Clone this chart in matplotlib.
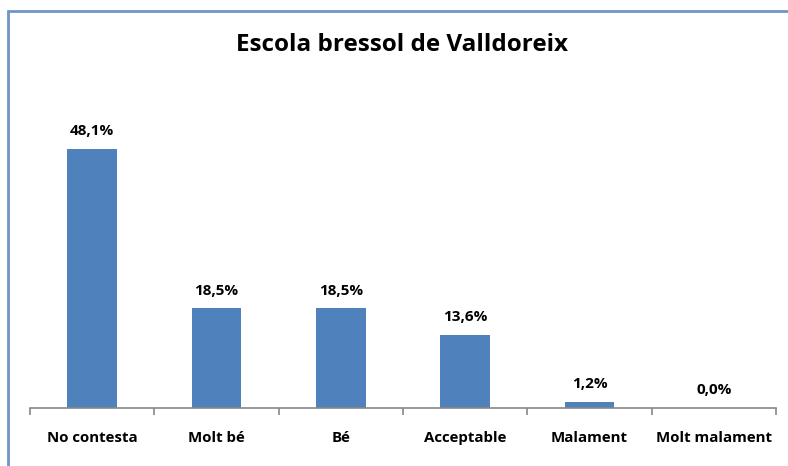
import matplotlib
matplotlib.use("Agg")
import matplotlib.pyplot as plt
from matplotlib.patches import Rectangle
import numpy as np

categories = ["No contesta", "Molt bé", "Bé", "Acceptable", "Malament", "Molt malament"]
values = [48.1, 18.5, 18.5, 13.6, 1.2, 0.0]
title = "Escola bressol de Valldoreix"

plt.rcParams['font.family'] = ['Open Sans', 'DejaVu Sans']

W, H = 788, 466
fig = plt.figure(figsize=(W / 100, H / 100), dpi=100)

# marc del gràfic (retallat a dreta i a baix)
fig.patches.append(Rectangle((8 / W, -0.1), 1.2, (H - 11) / H + 0.1,
                             transform=fig.transFigure, fill=False,
                             edgecolor="#6f95c8", linewidth=2))

ax = fig.add_axes([30 / W, (H - 408) / H, (776 - 30) / W, (408 - 85) / H])
x = np.arange(len(categories))
ax.bar(x, values, width=0.4, color="#4f81bd")

for xi, v in zip(x, values):
    ax.text(xi, v + 2.0, f"{v:.1f}%".replace(".", ","), ha="center", va="bottom",
            fontsize=11, fontweight="bold")

ax.set_xlim(-0.5, len(categories) - 0.5)
ax.set_ylim(0, 60)
ax.set_yticks([])
for s in ["top", "right", "left"]:
    ax.spines[s].set_visible(False)
ax.spines["bottom"].set_color("#888888")
ax.spines["bottom"].set_linewidth(1.2)

ax.set_xticks(np.arange(len(categories) + 1) - 0.5, minor=False)
ax.set_xticklabels([])
ax.tick_params(axis="x", length=5, color="#888888", width=1.2, direction="out")
for xi, c in zip(x, categories):
    ax.text(xi, -0.093, c, transform=ax.get_xaxis_transform(), ha="center",
            va="center", fontsize=10.8, fontweight="bold")

fig.text(402 / W, 1 - 45 / H, title, ha="center", va="center",
         fontsize=17.5, fontweight="bold")

fig.savefig("out.png", dpi=100)
